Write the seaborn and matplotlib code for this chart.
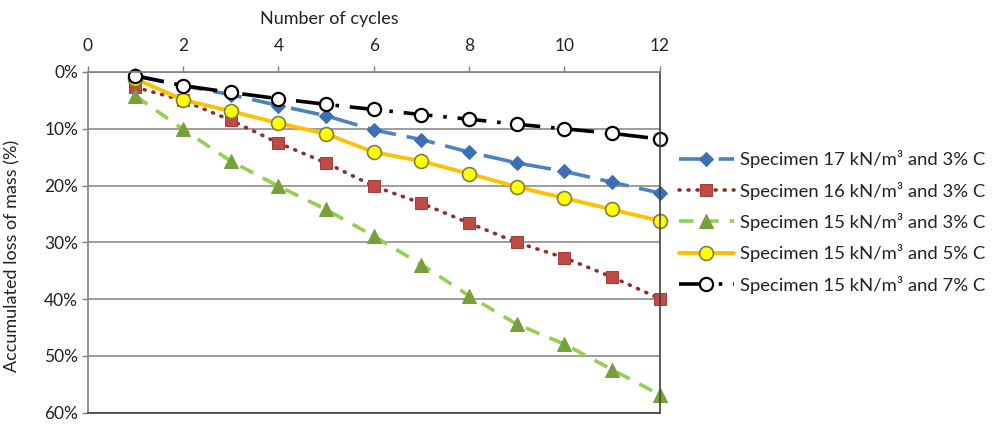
import matplotlib
matplotlib.use("Agg")
import matplotlib.pyplot as plt
from matplotlib.ticker import FuncFormatter, MultipleLocator
import numpy as np
import pandas as pd
import seaborn as sns

# Accumulated loss of mass (%) after each wetting/drying cycle
cycles = [1, 2, 3, 4, 5, 6, 7, 8, 9, 10, 11, 12]
loss_17_3 = [0.6, 2.4, 4.0, 5.9, 7.7, 10.2, 11.9, 14.1, 16.0, 17.5, 19.4, 21.3]
loss_16_3 = [2.7, 5.0, 8.5, 12.5, 16.0, 20.1, 23.1, 26.6, 30.0, 32.7, 36.1, 39.9]
loss_15_3 = [4.2, 10.1, 15.7, 20.1, 24.2, 28.9, 33.9, 39.4, 44.4, 47.9, 52.4, 56.8]
loss_15_5 = [1.2, 4.9, 6.9, 9.0, 10.9, 14.1, 15.7, 17.9, 20.2, 22.2, 24.2, 26.2]
loss_15_7 = [0.7, 2.4, 3.6, 4.7, 5.7, 6.6, 7.5, 8.3, 9.2, 10.0, 10.8, 11.8]

labels = [
    "Specimen 17 kN/m³ and 3% C",
    "Specimen 16 kN/m³ and 3% C",
    "Specimen 15 kN/m³ and 3% C",
    "Specimen 15 kN/m³ and 5% C",
    "Specimen 15 kN/m³ and 7% C",
]
series = [loss_17_3, loss_16_3, loss_15_3, loss_15_5, loss_15_7]

styles = [
    dict(color="#4F81BD", linestyle=(0, (8, 3)), marker="D", markersize=7.5,
         markerfacecolor="#3D6FB5", markeredgecolor="#3D6FB5", linewidth=2.6),
    dict(color="#8E2F2F", linestyle=(0, (0.3, 2.2)), marker="s", markersize=9,
         markerfacecolor="#BE4B48", markeredgecolor="#A53E3B", linewidth=2.6,
         dash_capstyle="round"),
    dict(color="#92D050", linestyle=(0, (4, 3)), marker="^", markersize=10,
         markerfacecolor="#77A03A", markeredgecolor="#77A03A", linewidth=2.6),
    dict(color="#FFC000", linestyle="-", marker="o", markersize=10,
         markerfacecolor="#FFFF00", markeredgecolor="#7F7F3F", markeredgewidth=1.2,
         linewidth=2.8),
    dict(color="#000000", linestyle=(0, (8, 3, 1, 3)), marker="o", markersize=9.5,
         markerfacecolor="white", markeredgecolor="#000000", markeredgewidth=1.6,
         linewidth=2.6),
]

sns.set_theme(style="white")
plt.rcParams["font.family"] = ["Lato", "DejaVu Sans"]

fig = plt.figure(figsize=(9.98, 4.26), dpi=100)
ax = fig.add_axes([0.088, 0.031, 0.573, 0.800])

for vals, lab, st in zip(series, labels, styles):
    df = pd.DataFrame({"cycle": cycles, "loss": vals})
    sns.lineplot(data=df, x="cycle", y="loss", ax=ax, label=lab, clip_on=False, **st)

ax.set_xlim(0, 12)
ax.set_ylim(60, 0)
ax.xaxis.set_major_locator(MultipleLocator(2))
ax.yaxis.set_major_locator(MultipleLocator(10))
ax.yaxis.set_major_formatter(FuncFormatter(lambda v, p: f"{v:.0f}%"))
ax.xaxis.tick_top()
ax.xaxis.set_label_position("top")
ax.set_xlabel("Number of cycles", fontsize=13, color="#222222")
ax.set_ylabel("Accumulated loss of mass (%)", fontsize=13, color="#222222")
ax.xaxis.set_label_coords(0.423, 1.14)
ax.yaxis.set_label_coords(-0.118, 0.46)

ax.grid(axis="y", color="#8C8C8C", linewidth=1.2)
ax.grid(axis="x", visible=False)
ax.set_axisbelow(True)
for side in ["left", "right", "top", "bottom"]:
    ax.spines[side].set_visible(True)
    ax.spines[side].set_color("#7F7F7F")
    ax.spines[side].set_linewidth(1.2)
ax.spines["bottom"].set_color("#404040")
ax.spines["right"].set_color("#404040")
ax.tick_params(axis="x", which="major", top=True, bottom=False, direction="out",
               length=4, width=1, color="#7F7F7F", labelsize=12.5, labelcolor="#222222", pad=9)
ax.tick_params(axis="y", which="major", left=True, direction="out",
               length=4, width=1, color="#7F7F7F", labelsize=12.5, labelcolor="#222222", pad=3)

leg = ax.legend(loc="center left", bbox_to_anchor=(1.02, 0.56), frameon=False,
                fontsize=13.3, handlelength=3.0, labelspacing=0.72, handletextpad=0.35,
                borderaxespad=0)
for t in leg.get_texts():
    t.set_color("#222222")

fig.savefig("out.png", dpi=100)
